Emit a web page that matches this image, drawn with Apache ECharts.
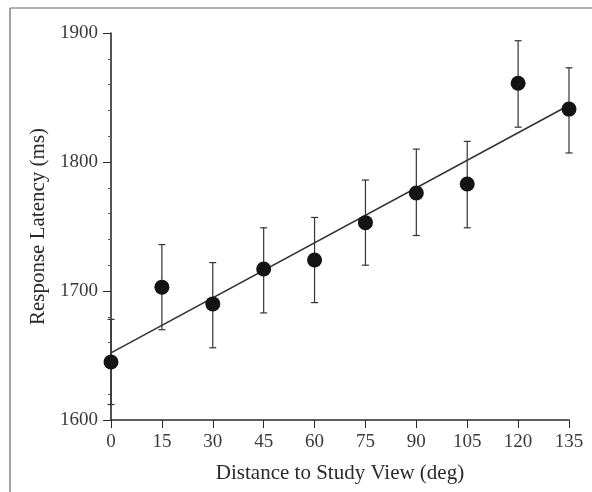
<!DOCTYPE html>
<html>
<head>
<meta charset="utf-8">
<script src="https://cdn.jsdelivr.net/npm/echarts@6/dist/echarts.min.js"></script>
<style>
html,body{margin:0;padding:0;background:#fff;}
#chart{width:592px;height:492px;}
</style>
</head>
<body>
<div id="chart"></div>
<script>
// Data
var distances = [0, 15, 30, 45, 60, 75, 90, 105, 120, 135];
var latency   = [1645, 1703, 1690, 1717, 1724, 1753, 1776, 1783, 1861, 1841];
var errUpper  = [1678, 1736, 1722, 1749, 1757, 1786, 1810, 1816, 1894, 1873];
var errLower  = [1612, 1670, 1656, 1683, 1691, 1720, 1743, 1749, 1827, 1807];
var fitX      = [0, 135];
var fitY      = [1652, 1844];
var yTicks    = [1600, 1700, 1800, 1900];
var xTicks    = [0, 15, 30, 45, 60, 75, 90, 105, 120, 135];

var FONT = '"Liberation Serif", "Times New Roman", serif';
var INK = '#2a2a2a';

var chart = echarts.init(document.getElementById('chart'), null, {renderer: 'canvas'});

var pointData = distances.map(function (d, i) { return [d, latency[i]]; });
var errData = distances.map(function (d, i) { return [d, errLower[i], errUpper[i]]; });
var fitData = fitX.map(function (d, i) { return [d, fitY[i]]; });

var option = {
  backgroundColor: '#ffffff',
  animation: false,
  graphic: [
    { type: 'line', shape: {x1: 10, y1: 8, x2: 10, y2: 492}, style: {stroke: '#666', lineWidth: 1.2} },
    { type: 'line', shape: {x1: 10, y1: 8, x2: 592, y2: 8}, style: {stroke: '#666', lineWidth: 1.2} }
  ],
  grid: { left: 111, right: 23, top: 33, bottom: 72 },
  xAxis: {
    type: 'value',
    min: xTicks[0], max: xTicks[xTicks.length - 1], interval: 15,
    name: 'Distance to Study View (deg)',
    nameLocation: 'middle', nameGap: 43,
    nameTextStyle: { fontFamily: FONT, fontSize: 21, color: INK },
    axisLine: { show: true, onZero: false, lineStyle: { color: INK, width: 1.6 } },
    axisTick: { show: true, inside: false, length: 8, lineStyle: { color: INK, width: 1 } },
    axisLabel: { fontFamily: FONT, fontSize: 19, color: '#3a3a3a', margin: 13 },
    splitLine: { show: false }
  },
  yAxis: {
    type: 'value',
    min: yTicks[0], max: yTicks[yTicks.length - 1], interval: 100,
    name: 'Response Latency (ms)',
    nameLocation: 'middle', nameGap: 52, nameRotate: 90,
    nameTextStyle: { fontFamily: FONT, fontSize: 21, color: INK },
    axisLine: { show: true, onZero: false, lineStyle: { color: INK, width: 1.6 } },
    axisTick: { show: true, inside: false, length: 8, lineStyle: { color: INK, width: 1 } },
    minorTick: { show: true, splitNumber: 5, length: 3, lineStyle: { color: '#555', width: 1 } },
    axisLabel: {
      fontFamily: FONT, fontSize: 19, color: '#3a3a3a', margin: 13,
      formatter: function (v) { return String(v); }
    },
    splitLine: { show: false }
  },
  series: [
    {
      type: 'line',
      data: fitData,
      symbol: 'none',
      lineStyle: { color: '#333', width: 1.6 },
      z: 2
    },
    {
      type: 'custom',
      data: errData,
      z: 3,
      renderItem: function (params, api) {
        var x = api.value(0);
        var lo = api.coord([x, api.value(1)]);
        var hi = api.coord([x, api.value(2)]);
        var cw = 3.5;
        var st = { stroke: '#333', lineWidth: 1.2 };
        return {
          type: 'group',
          children: [
            { type: 'line', shape: { x1: hi[0], y1: hi[1], x2: lo[0], y2: lo[1] }, style: st },
            { type: 'line', shape: { x1: hi[0] - cw, y1: hi[1], x2: hi[0] + cw, y2: hi[1] }, style: st },
            { type: 'line', shape: { x1: lo[0] - cw, y1: lo[1], x2: lo[0] + cw, y2: lo[1] }, style: st }
          ]
        };
      }
    },
    {
      type: 'scatter',
      data: pointData,
      symbol: 'circle',
      symbolSize: 15,
      itemStyle: { color: '#141414', opacity: 1 },
      z: 4
    }
  ]
};
chart.setOption(option);
</script>
</body>
</html>
